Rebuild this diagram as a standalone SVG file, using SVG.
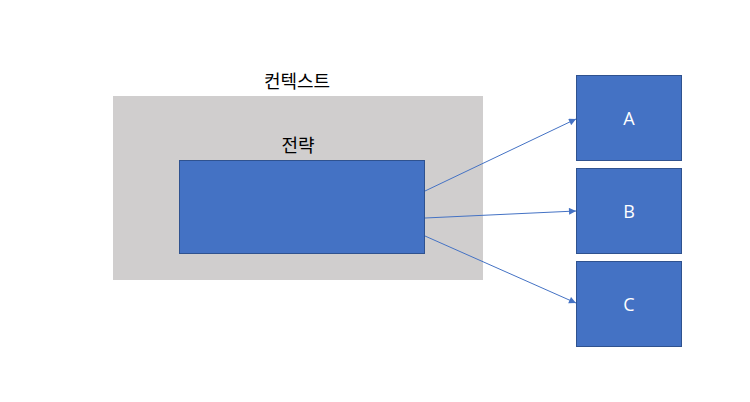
<svg xmlns="http://www.w3.org/2000/svg" width="750" height="402" viewBox="0 0 750 402">
<defs>
<style>
.box{fill:#4472C4;stroke:#2F528F;stroke-width:1}
.lbl{font-family:"Noto Sans CJK KR","Noto Sans",sans-serif;fill:#000;font-size:18px;text-anchor:middle}
.wl{font-family:"Open Sans","Noto Sans",sans-serif;fill:#fff;font-size:18px;text-anchor:middle;dominant-baseline:central}
.conn{stroke:#4472C4;stroke-width:1;fill:none;marker-end:url(#ah)}
</style>
<marker id="ah" viewBox="0 0 10 10" refX="10" refY="5" markerWidth="8" markerHeight="7" markerUnits="userSpaceOnUse" orient="auto">
<path d="M0,0 L10,5 L0,10 z" fill="#4472C4"/>
</marker>
</defs>
<rect width="750" height="402" fill="#fff"/>
<g id="context">
<rect x="113" y="96" width="370" height="184" fill="#D0CECE"/>
<text class="lbl" x="297" y="88">컨텍스트</text>
</g>
<g id="strategy">
<rect class="box" x="179.5" y="160.5" width="245" height="93"/>
<text class="lbl" x="298" y="152">전략</text>
</g>
<g id="A">
<rect class="box" x="576.5" y="75.5" width="105" height="85"/>
<text class="wl" x="629" y="118">A</text>
</g>
<g id="B">
<rect class="box" x="576.5" y="168.5" width="105" height="85"/>
<text class="wl" x="629" y="211">B</text>
</g>
<g id="C">
<rect class="box" x="576.5" y="261.5" width="105" height="85"/>
<text class="wl" x="629" y="304">C</text>
</g>
<g id="connectors">
<line class="conn" x1="425" y1="191" x2="576" y2="119"/>
<line class="conn" x1="425" y1="218" x2="576" y2="211"/>
<line class="conn" x1="425" y1="236" x2="576" y2="303"/>
</g>
</svg>
